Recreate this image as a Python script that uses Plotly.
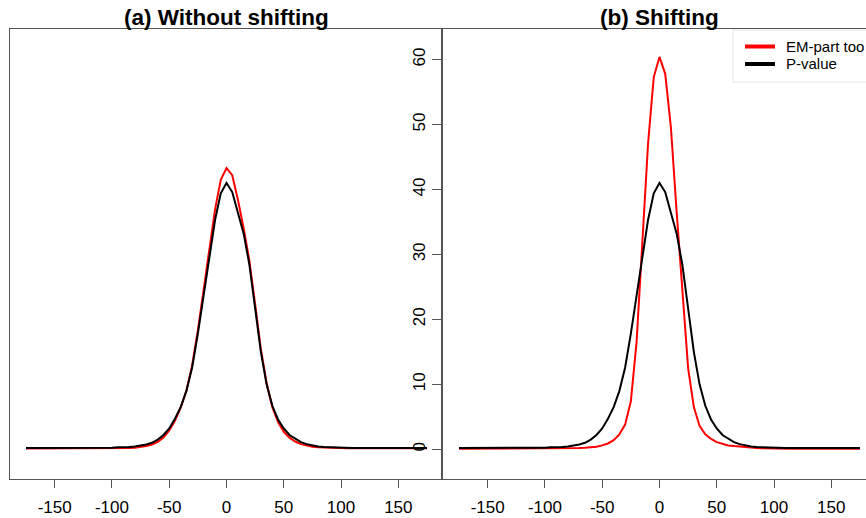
import plotly.graph_objects as go

W, H = 866, 518
x_vals = list(range(-175, 180, 5))

black_p = [0.2, 0.2, 0.2, 0.25, 0.2, 0.2, 0.25, 0.2, 0.2, 0.2, 0.15, 0.2, 0.2, 0.15, 0.2,
           0.25, 0.3, 0.3, 0.35, 0.45, 0.55, 0.75, 1.0, 1.5, 2.2, 3.2, 4.7, 6.5, 9.0, 12.6,
           17.8, 23.6, 29.7, 35.3, 39.4, 41.0, 39.6, 36.6, 33.2, 28.4, 21.3, 15.0, 10.0, 6.7,
           4.6, 3.2, 2.2, 1.6, 1.1, 0.8, 0.6, 0.45, 0.35, 0.3, 0.25, 0.2, 0.2, 0.2, 0.2, 0.2,
           0.2, 0.2, 0.2, 0.2, 0.2, 0.2, 0.2, 0.2, 0.2, 0.2, 0.2]

red_a = [0.12, 0.12, 0.12, 0.15, 0.12, 0.12, 0.15, 0.12, 0.12, 0.12, 0.1, 0.12, 0.12, 0.1, 0.12,
         0.15, 0.15, 0.2, 0.2, 0.25, 0.35, 0.5, 0.75, 1.15, 1.8, 2.9, 4.4, 6.4, 9.0, 12.9,
         18.3, 24.6, 30.9, 36.9, 41.5, 43.3, 42.2, 38.4, 34.0, 29.0, 22.3, 15.4, 10.2, 6.5,
         4.2, 2.7, 1.8, 1.2, 0.8, 0.55, 0.4, 0.3, 0.25, 0.2, 0.18, 0.15, 0.15, 0.15, 0.15, 0.15,
         0.15, 0.15, 0.15, 0.15, 0.15, 0.15, 0.15, 0.15, 0.15, 0.15, 0.15]

red_b = [0.1, 0.1, 0.1, 0.1, 0.1, 0.1, 0.1, 0.1, 0.1, 0.1, 0.1, 0.1, 0.1, 0.1, 0.1,
         0.1, 0.1, 0.12, 0.12, 0.13, 0.15, 0.2, 0.25, 0.3, 0.4, 0.6, 0.9, 1.4, 2.3, 3.8,
         7.4, 16.5, 31.5, 47.0, 57.3, 60.4, 57.8, 49.5, 36.5, 24.0, 12.5, 6.5, 3.6, 2.3,
         1.6, 1.1, 0.8, 0.6, 0.5, 0.4, 0.3, 0.25, 0.2, 0.15, 0.12, 0.1, 0.1, 0.1, 0.1, 0.1,
         0.1, 0.1, 0.1, 0.1, 0.1, 0.1, 0.1, 0.1, 0.1, 0.1, 0.1]

titles = ["(a) Without shifting", "(b) Shifting"]
legend_labels = ["EM-part too", "P-value"]
x_ticks = [-150, -100, -50, 0, 50, 100, 150]
y_ticks = [0, 10, 20, 30, 40, 50, 60]

FONT = "Liberation Sans, Arial, Helvetica, sans-serif"
AX = "#555555"

ML, MR, MT, MB = 0, 0, 29, 39
PW, PH = W - ML - MR, H - MT - MB


def px(xp):
    return (xp - ML) / PW


def py(yp):
    return (H - MB - yp) / PH


fig = go.Figure()
fig.add_trace(go.Scatter(x=x_vals, y=red_a, mode="lines", line=dict(color="red", width=2),
                         xaxis="x", yaxis="y", showlegend=False))
fig.add_trace(go.Scatter(x=x_vals, y=black_p, mode="lines", line=dict(color="black", width=2),
                         xaxis="x", yaxis="y", showlegend=False))
fig.add_trace(go.Scatter(x=x_vals, y=red_b, mode="lines", line=dict(color="red", width=2),
                         xaxis="x2", yaxis="y2", showlegend=False))
fig.add_trace(go.Scatter(x=x_vals, y=black_p, mode="lines", line=dict(color="black", width=2),
                         xaxis="x2", yaxis="y2", showlegend=False))

yr = [-4.57, 64.7]
xcommon = dict(showgrid=False, zeroline=False, showline=True, linecolor=AX, linewidth=1,
               mirror=True, ticks="outside", ticklen=8, tickcolor=AX, tickwidth=1,
               tickvals=x_ticks, ticktext=[str(v) for v in x_ticks],
               tickfont=dict(family=FONT, size=17, color="black"), ticklabelstandoff=5)

fig.update_layout(
    width=W, height=H,
    margin=dict(l=ML, r=MR, t=MT, b=MB),
    paper_bgcolor="white", plot_bgcolor="white",
    xaxis=dict(domain=[px(10), px(443)], range=[-189, 189], anchor="y", **xcommon),
    xaxis2=dict(domain=[px(443), 1], range=[-189, 180.3], anchor="y2", **xcommon),
    yaxis=dict(domain=[0, 1], range=yr, showgrid=False, zeroline=False, showline=True,
               linecolor=AX, linewidth=1, showticklabels=False, ticks="", anchor="x"),
    yaxis2=dict(domain=[0, 1], range=yr, showgrid=False, zeroline=False, showline=True,
                linecolor=AX, linewidth=2, ticks="outside", ticklen=9, tickcolor=AX,
                tickvals=y_ticks, ticktext=[str(v) for v in y_ticks], tickangle=-90,
                tickfont=dict(family=FONT, size=17, color="black"), ticklabelstandoff=0,
                anchor="x2"),
    showlegend=False,
)

# titles
for t, cx in zip(titles, [226, 659]):
    fig.add_annotation(text="<b>" + t + "</b>", x=px(cx), y=py(17), xref="paper", yref="paper",
                       showarrow=False, xanchor="center", yanchor="middle",
                       font=dict(family=FONT, size=22.5, color="black"))

# legend box (drawn like R's legend)
fig.add_shape(type="rect", xref="paper", yref="paper", x0=px(733), x1=px(900),
              y0=py(82), y1=py(30), line=dict(color="#e6e6e6", width=1), fillcolor="white",
              layer="above")
for lab, col, yy in zip(legend_labels, ["red", "black"], [46.5, 64]):
    fig.add_shape(type="line", xref="paper", yref="paper", x0=px(745), x1=px(775),
                  y0=py(yy), y1=py(yy), line=dict(color=col, width=4), layer="above")
    fig.add_annotation(text=lab, x=px(784), y=py(yy), xref="paper", yref="paper",
                       showarrow=False, xanchor="left", yanchor="middle",
                       font=dict(family=FONT, size=15, color="black"))

fig.write_html("out.html")
